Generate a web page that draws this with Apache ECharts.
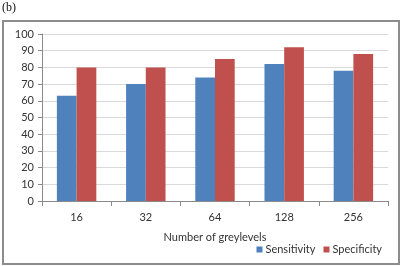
<!DOCTYPE html>
<html>
<head>
<meta charset="utf-8">
<script src="https://cdn.jsdelivr.net/npm/echarts@6/dist/echarts.min.js"></script>
<style>
  html, body { margin: 0; padding: 0; background: #fff; }
  #chart { width: 402px; height: 266px; }
</style>
</head>
<body>
<div id="chart"></div>
<script>
// chart data
const greylevels  = ['16', '32', '64', '128', '256']
const sensitivity = [63, 70, 74, 82, 78]
const specificity = [80, 80, 85, 92, 88]
const yTicks      = { min: 0, max: 100, interval: 10 }

const font = 'Lato, "Open Sans", sans-serif'
const axisGrey = '#8a8a8a'

const chart = echarts.init(document.getElementById('chart'), null, { renderer: 'canvas' })

chart.setOption({
  backgroundColor: '#fff',
  animation: false,
  graphic: [
    {
      type: 'rect',
      shape: { x: 3, y: 21, width: 396, height: 243 },
      style: { fill: 'none', stroke: '#8c8c8c', lineWidth: 2 },
    },
    {
      type: 'text', left: 2, top: 2,
      style: { text: '(b)', font: '12px "Liberation Serif", "DejaVu Serif", serif', fill: '#111' },
    },
  ],
  grid: { left: 42, right: 14, top: 34, bottom: 65 },
  legend: {
    right: 15, top: 239,
    itemWidth: 6, itemHeight: 6, itemGap: 8,
    icon: 'rect',
    textStyle: { color: '#333', fontSize: 11, fontFamily: font, padding: [0, 0, 0, -2] },
    data: ['Sensitivity', 'Specificity'],
  },
  xAxis: {
    type: 'category', data: greylevels,
    name: 'Number of greylevels', nameLocation: 'middle', nameGap: 31,
    nameTextStyle: { color: '#333', fontSize: 11, fontFamily: font },
    axisLine: { lineStyle: { color: axisGrey } },
    axisTick: { show: true, length: 5, lineStyle: { color: axisGrey } },
    axisLabel: { color: '#333', fontSize: 11, fontFamily: font, margin: 11 },
  },
  yAxis: {
    type: 'value', min: yTicks.min, max: yTicks.max, interval: yTicks.interval,
    axisLine: { show: true, lineStyle: { color: axisGrey } },
    axisTick: { show: true, length: 4, lineStyle: { color: axisGrey } },
    axisLabel: { color: '#333', fontSize: 11, fontFamily: font, margin: 8 },
    splitLine: { lineStyle: { color: '#d9d9d9' } },
  },
  series: [
    {
      name: 'Sensitivity', type: 'bar', data: sensitivity,
      barGap: '0%', barCategoryGap: '43%',
      itemStyle: { color: '#4f81bd' },
    },
    {
      name: 'Specificity', type: 'bar', data: specificity,
      itemStyle: { color: '#c0504d' },
    },
  ],
})
</script>
</body>
</html>
